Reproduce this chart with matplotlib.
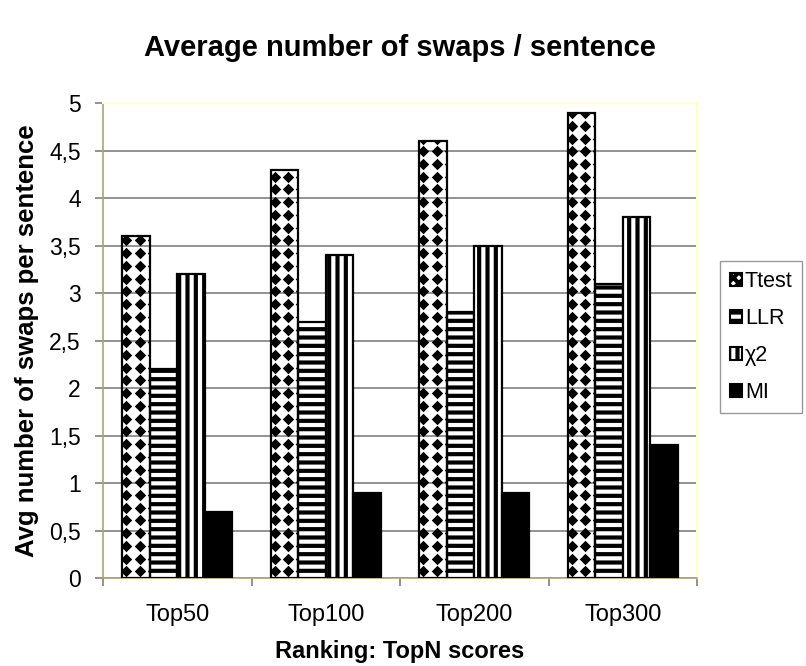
import numpy as np
import matplotlib
matplotlib.use("Agg")
import matplotlib.pyplot as plt
from matplotlib.patches import Patch
from matplotlib.ticker import FuncFormatter, MultipleLocator

plt.rcParams["font.family"] = ["Liberation Sans", "DejaVu Sans"]
plt.rcParams["hatch.linewidth"] = 3.0

categories = ["Top50", "Top100", "Top200", "Top300"]
series_names = ["Ttest", "LLR", "\u03c72", "MI"]
ttest = [3.6, 4.3, 4.6, 4.9]
llr = [2.2, 2.7, 2.8, 3.1]
chi2 = [3.2, 3.4, 3.5, 3.8]
mi = [0.7, 0.9, 0.9, 1.4]

series = [ttest, llr, chi2, mi]
hatches = [None, "--", "||", None]
faces = ["white", "white", "white", "black"]

fig = plt.figure(figsize=(8.06, 6.66), dpi=100)
ax = fig.add_axes([0.1278, 0.1321, 0.7370, 0.7132])

x = np.arange(len(categories))
width = 0.185
offsets = (np.arange(4) - 1.5) * width

bar_groups = []
for vals, off, h, fc in zip(series, offsets, hatches, faces):
    bars = ax.bar(x + off, vals, width, color=fc, edgecolor="black",
                  linewidth=1.6, hatch=h, zorder=3)
    bar_groups.append(bars)

# diamond texture for the Ttest bars, clipped to each bar
for bar in bar_groups[0]:
    x0, w, h = bar.get_x(), bar.get_width(), bar.get_height()
    cols = x0 + w * (0.15 + 0.48 * np.arange(-1, 3))
    rows = np.arange(0.07, h + 0.15, 0.134)
    gx, gy = np.meshgrid(cols, rows)
    pts = ax.scatter(gx.ravel(), gy.ravel(), marker="D", s=34, color="black",
                     linewidths=0, zorder=4)
    pts.set_clip_path(bar)
    bar.set_zorder(5)
    bar.set_facecolor("none")

ax.set_xlim(-0.5, len(categories) - 0.5)
ax.set_ylim(0, 5)
ax.yaxis.set_major_locator(MultipleLocator(0.5))
ax.yaxis.set_major_formatter(FuncFormatter(lambda v, p: f"{v:g}".replace(".", ",")))
ax.grid(axis="y", color="#808080", linewidth=1.2, zorder=0)

ax.set_xticks(x)
ax.set_xticklabels(categories)
ax.set_xticks(np.arange(len(categories) + 1) - 0.5, minor=True)
ax.tick_params(axis="x", which="major", length=0, pad=19, labelsize=17)
ax.tick_params(axis="x", which="minor", length=6, color="#808080", width=1.2)
ax.tick_params(axis="y", length=6, color="#808080", width=1.2, pad=10, labelsize=16.5)

for side in ["left", "bottom"]:
    ax.spines[side].set_color("#a8a870")
    ax.spines[side].set_linewidth(1.2)
for side in ["top", "right"]:
    ax.spines[side].set_color("#ffffc8")
    ax.spines[side].set_linewidth(1.5)

ax.set_title("Average number of swaps / sentence", fontsize=21,
             fontweight="bold", pad=34)
ax.set_xlabel("Ranking: TopN scores", fontsize=17, fontweight="bold", labelpad=10)
ax.set_ylabel("Avg number of swaps per sentence", fontsize=18.5,
              fontweight="bold", labelpad=7)

handles = [
    Patch(facecolor="white", edgecolor="black", hatch="xxx", linewidth=1.5),
    Patch(facecolor="white", edgecolor="black", hatch="--", linewidth=1.5),
    Patch(facecolor="white", edgecolor="black", hatch="||", linewidth=1.5),
    Patch(facecolor="black", edgecolor="black", linewidth=1.5),
]
leg = fig.legend(handles, series_names, loc="center left",
                 bbox_to_anchor=(720 / 806, 1 - 337 / 666), fontsize=15.5,
                 fancybox=False, edgecolor="#808080", handlelength=0.55,
                 handleheight=0.55, handletextpad=0.15, labelspacing=0.75,
                 borderpad=0.45, borderaxespad=0)
leg.get_frame().set_linewidth(1.0)

fig.savefig("out.png", dpi=100)
